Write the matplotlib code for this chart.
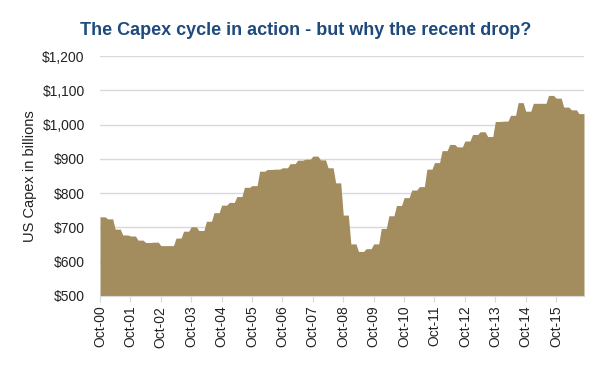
import numpy as np
import matplotlib
matplotlib.use("Agg")
from matplotlib import pyplot as plt
from matplotlib.ticker import FuncFormatter

# quarterly US capex ($bn), Q4-2000 .. Q3-2016, shown on a monthly axis
capex_q = [731, 725, 695, 678, 675, 663, 656, 657, 647, 647,
           669, 689, 702, 691, 718, 743, 765, 773, 790, 817,
           822, 864, 869, 870, 874, 886, 896, 899, 908, 897,
           874, 830, 736, 652, 630, 638, 652, 697, 734, 764,
           787, 809, 819, 870, 889, 924, 942, 935, 952, 971,
           979, 965, 1009, 1010, 1027, 1064, 1039, 1062, 1062, 1085,
           1077, 1051, 1043, 1032]
tick_labels = ['Oct-%02d' % y for y in range(0, 16)]
y_ticks = [500, 600, 700, 800, 900, 1000, 1100, 1200]

capex_m = np.repeat(capex_q, 3)
months = np.arange(len(capex_m))

plt.rcParams['font.family'] = ['Liberation Sans', 'DejaVu Sans']

fig = plt.figure(figsize=(6.06, 3.76), dpi=100)
ax = fig.add_axes([100 / 606, 80 / 376, 484 / 606, 240 / 376])

ax.fill_between(months, 500, capex_m, color='#A38D5F', lw=0, zorder=2)

ax.set_xlim(0, months[-1])
ax.set_ylim(500, 1200)
ax.set_yticks(y_ticks)
ax.yaxis.set_major_formatter(FuncFormatter(lambda v, p: '${:,.0f}'.format(v)))
ax.set_xticks(np.arange(0, len(tick_labels) * 12, 12))
ax.set_xticklabels(tick_labels, rotation=90)

ax.grid(axis='y', color='#D9D9D9', lw=1, zorder=1)
for s in ['top', 'right', 'left']:
    ax.spines[s].set_visible(False)
ax.spines['bottom'].set_color('#D9D9D9')
ax.spines['bottom'].set_zorder(3)
ax.tick_params(axis='y', length=0, pad=11, labelsize=10, labelcolor='#222222')
ax.tick_params(axis='x', length=4, color='#D9D9D9', pad=3, labelsize=10, labelcolor='#222222')

ax.set_ylabel('US Capex in billions', fontsize=10.5, color='#222222', labelpad=4)
fig.text(0.505, 0.92, 'The Capex cycle in action - but why the recent drop?',
         ha='center', va='center', fontsize=13, fontweight='bold', color='#1F4A7C')

fig.savefig('out.png', dpi=100)
